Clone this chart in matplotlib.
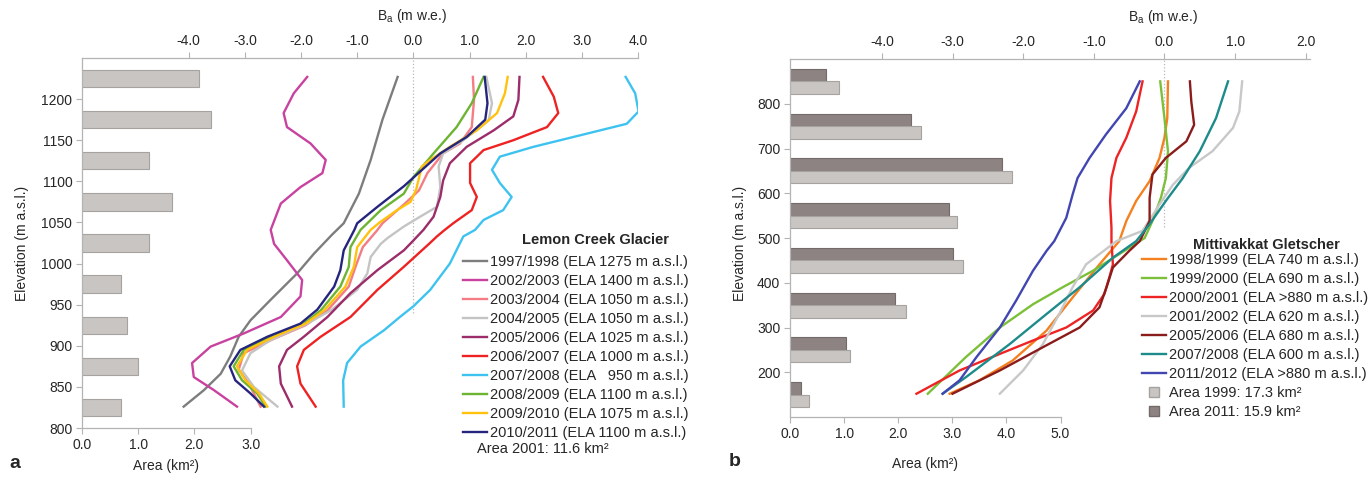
import numpy as np
import matplotlib.pyplot as plt
from matplotlib.lines import Line2D

plt.rcParams["font.family"] = ["Liberation Sans", "DejaVu Sans"]
plt.rcParams["axes.unicode_minus"] = False

# ---------------- panel a: Lemon Creek Glacier ----------------
lc_band = [825, 875, 925, 975, 1025, 1075, 1125, 1175, 1225]
lc_area = [0.70, 1.00, 0.80, 0.70, 1.20, 1.60, 1.20, 2.30, 2.08]

lc_9798_e = [1227, 1175, 1126, 1085, 1049, 1035, 1012, 988, 956, 931, 911, 887, 866, 846, 826]
lc_9798_b = [-0.28, -0.55, -0.76, -0.97, -1.24, -1.45, -1.77, -2.07, -2.54, -2.90, -3.11, -3.26, -3.43, -3.73, -4.09]

lc_0203_e = [1227, 1207, 1183, 1166, 1146, 1126, 1110, 1093, 1073, 1041, 1024, 1004, 980, 960, 935, 915, 899, 879, 862, 846, 826]
lc_0203_b = [-1.89, -2.13, -2.31, -2.25, -1.83, -1.56, -1.62, -2.01, -2.36, -2.54, -2.48, -2.25, -1.98, -2.01, -2.36, -3.02, -3.61, -3.94, -3.91, -3.55, -3.14]

lc_0304_e = [1227, 1199, 1166, 1146, 1134, 1110, 1089, 1073, 1049, 1040, 1020, 996, 972, 943, 925, 908, 891, 871, 854, 826]
lc_0304_b = [1.06, 1.08, 1.04, 0.83, 0.53, 0.25, 0.10, -0.15, -0.55, -0.65, -0.90, -1.03, -1.15, -1.53, -1.92, -2.50, -3.02, -3.11, -2.93, -2.72]

lc_0405_e = [1227, 1195, 1174, 1150, 1134, 1118, 1093, 1069, 1057, 1045, 1031, 1024, 1008, 988, 968, 943, 927, 907, 891, 870, 850, 826]
lc_0405_b = [1.30, 1.40, 1.34, 0.89, 0.53, 0.45, 0.48, 0.42, 0.12, -0.17, -0.46, -0.58, -0.76, -0.82, -1.00, -1.47, -1.89, -2.54, -2.90, -3.05, -2.84, -2.42]

lc_0506_e = [1227, 1199, 1179, 1162, 1142, 1122, 1101, 1081, 1057, 1041, 1028, 1016, 992, 964, 935, 911, 895, 875, 854, 826]
lc_0506_b = [1.89, 1.87, 1.78, 1.43, 0.95, 0.65, 0.53, 0.48, 0.36, 0.18, 0.0, -0.17, -0.64, -1.12, -1.53, -1.95, -2.25, -2.39, -2.36, -2.16]

lc_0607_e = [1227, 1203, 1183, 1166, 1150, 1138, 1122, 1098, 1081, 1065, 1049, 1041, 1033, 1024, 996, 968, 935, 911, 895, 875, 854, 826]
lc_0607_b = [2.31, 2.50, 2.58, 2.38, 1.78, 1.25, 1.01, 1.01, 1.13, 1.04, 0.71, 0.56, 0.42, 0.28, -0.17, -0.64, -1.12, -1.65, -1.95, -2.07, -2.01, -1.74]

lc_0708_e = [1227, 1207, 1185, 1170, 1158, 1142, 1130, 1114, 1098, 1081, 1065, 1053, 1041, 1033, 1000, 968, 948, 935, 919, 899, 879, 858, 826]
lc_0708_b = [3.78, 3.95, 4.01, 3.80, 3.09, 2.14, 1.54, 1.40, 1.54, 1.75, 1.60, 1.25, 1.10, 0.89, 0.65, 0.30, 0.0, -0.24, -0.52, -0.94, -1.18, -1.25, -1.24]

lc_0809_e = [1227, 1195, 1166, 1134, 1105, 1085, 1065, 1041, 1020, 996, 972, 943, 927, 911, 895, 875, 858, 842, 826]
lc_0809_b = [1.25, 1.04, 0.77, 0.36, 0.0, -0.17, -0.58, -0.94, -1.12, -1.15, -1.30, -1.65, -1.95, -2.54, -3.02, -3.20, -3.05, -2.78, -2.63]

lc_0910_e = [1227, 1207, 1183, 1162, 1142, 1126, 1118, 1090, 1075, 1065, 1050, 1041, 1020, 996, 972, 943, 927, 911, 895, 875, 858, 842, 826]
lc_0910_b = [1.68, 1.63, 1.49, 1.13, 0.65, 0.30, 0.15, 0.05, -0.05, -0.29, -0.60, -0.76, -1.00, -1.06, -1.21, -1.59, -1.92, -2.48, -2.96, -3.14, -2.99, -2.75, -2.60]

lc_1011_e = [1227, 1195, 1175, 1154, 1134, 1118, 1094, 1069, 1049, 1041, 1016, 992, 972, 944, 927, 911, 895, 875, 858, 842, 826]
lc_1011_b = [1.27, 1.32, 1.28, 0.95, 0.48, 0.22, -0.17, -0.64, -1.00, -1.05, -1.24, -1.30, -1.41, -1.71, -2.01, -2.60, -3.08, -3.27, -3.17, -2.90, -2.66]

lc_labels = ["1997/1998 (ELA 1275 m a.s.l.)", "2002/2003 (ELA 1400 m a.s.l.)",
             "2003/2004 (ELA 1050 m a.s.l.)", "2004/2005 (ELA 1050 m a.s.l.)",
             "2005/2006 (ELA 1025 m a.s.l.)", "2006/2007 (ELA 1000 m a.s.l.)",
             "2007/2008 (ELA   950 m a.s.l.)", "2008/2009 (ELA 1100 m a.s.l.)",
             "2009/2010 (ELA 1075 m a.s.l.)", "2010/2011 (ELA 1100 m a.s.l.)"]
lc_colors = ["#7d7d7d", "#c8429f", "#f47c84", "#c4c4c4", "#9c2d6a",
             "#ee2222", "#3ec3f0", "#6cb432", "#ffc20e", "#25257e"]
lc_zero_e = [940, 1250]

# ---------------- panel b: Mittivakkat Gletscher ----------------
mi_band = [150, 250, 350, 450, 550, 650, 750, 850]
mi_area_1999 = [0.35, 1.11, 2.15, 3.19, 3.08, 4.10, 2.43, 0.90]
mi_area_2011 = [0.21, 1.03, 1.95, 3.02, 2.94, 3.91, 2.24, 0.67]

mi_9899_e = [850, 768, 724, 679, 627, 583, 538, 493, 441, 367, 293, 226, 182, 152]
mi_9899_b = [0.05, 0.04, 0.0, -0.07, -0.21, -0.40, -0.54, -0.64, -0.92, -1.30, -1.67, -2.15, -2.62, -3.04]

mi_9900_e = [850, 768, 694, 634, 590, 538, 500, 427, 390, 352, 300, 234, 152]
mi_9900_b = [-0.06, 0.0, 0.05, 0.02, -0.05, -0.17, -0.28, -1.01, -1.44, -1.86, -2.33, -2.81, -3.35]

mi_0001_e = [850, 783, 724, 679, 634, 583, 523, 493, 441, 412, 375, 338, 300, 271, 241, 204, 152]
mi_0001_b = [-0.31, -0.40, -0.54, -0.68, -0.75, -0.77, -0.75, -0.75, -0.73, -0.78, -0.85, -1.01, -1.39, -1.86, -2.33, -2.90, -3.51]

mi_0102_e = [850, 783, 746, 694, 657, 619, 575, 516, 493, 441, 390, 330, 263, 204, 152]
mi_0102_b = [1.10, 1.06, 0.97, 0.68, 0.35, 0.12, -0.07, -0.31, -0.68, -1.11, -1.30, -1.49, -1.72, -2.00, -2.33]

mi_0506_e = [850, 805, 753, 716, 679, 642, 590, 538, 493, 471, 434, 390, 345, 300, 256, 204, 152]
mi_0506_b = [0.36, 0.38, 0.42, 0.31, 0.02, -0.17, -0.21, -0.21, -0.35, -0.50, -0.73, -0.82, -0.92, -1.20, -1.72, -2.33, -3.00]

mi_0708_e = [850, 768, 694, 634, 583, 531, 493, 456, 390, 330, 263, 189, 152]
mi_0708_b = [0.90, 0.73, 0.50, 0.26, 0.02, -0.21, -0.40, -0.73, -1.20, -1.67, -2.19, -2.81, -3.14]

mi_1112_e = [850, 790, 731, 679, 634, 597, 545, 493, 471, 427, 360, 300, 234, 182, 152]
mi_1112_b = [-0.35, -0.54, -0.83, -1.06, -1.23, -1.30, -1.39, -1.56, -1.67, -1.86, -2.10, -2.33, -2.66, -2.90, -3.14]

mi_labels = ["1998/1999 (ELA 740 m a.s.l.)", "1999/2000 (ELA 690 m a.s.l.)",
             "2000/2001 (ELA >880 m a.s.l.)", "2001/2002 (ELA 620 m a.s.l.)",
             "2005/2006 (ELA 680 m a.s.l.)", "2007/2008 (ELA 600 m a.s.l.)",
             "2011/2012 (ELA >880 m a.s.l.)"]
mi_colors = ["#f5801f", "#7cc03a", "#ee2424", "#c8c8c8", "#8b1c1c", "#1e8b8b", "#4146b0"]
mi_zero_e = [525, 900]

W, H = 1370, 482
AX_COL = "#b4b4b4"
TXT = "#262626"


def box(x, y, w, h):
    # pixel box (left, top, width, height) -> figure fraction rect
    return [x / W, 1 - (y + h) / H, w / W, h / H]


def style(ax, top):
    ax.tick_params(direction="out", length=4, width=0.8, color=AX_COL,
                   labelsize=10, labelcolor=TXT, pad=3)
    for s in ax.spines.values():
        s.set_color(AX_COL)
        s.set_linewidth(0.9)
    if top:
        for s in ["left", "right", "bottom"]:
            ax.spines[s].set_visible(False)
    else:
        ax.spines[["right", "top"]].set_visible(False)


fig = plt.figure(figsize=(W / 100, H / 100), dpi=100)

# ---- panel a
ax_a = fig.add_axes(box(82, 58, 556, 370))
ax_a.barh(lc_band, lc_area, height=21, color="#c9c5c3", edgecolor="#a6a2a0", linewidth=0.8)
ax_a.set_xlim(0, 556 / 56.2)
ax_a.set_ylim(800, 1250)
ax_a.set_yticks(range(800, 1201, 50))
ax_a.set_xticks([0, 1, 2, 3])
ax_a.xaxis.set_major_formatter("{x:.1f}")
style(ax_a, False)
ax_a.spines["bottom"].set_bounds(0, 3)

bx_a = ax_a.twiny()
bx_a.set_xlim(-5.9, 4.0)
bx_a.set_xticks(np.arange(-4, 4.01, 1))
bx_a.xaxis.set_major_formatter("{x:.1f}")
style(bx_a, True)
bx_a.plot([0, 0], lc_zero_e, ls=":", color="#b8b8b8", lw=0.9)
lc_series = [(lc_9798_b, lc_9798_e), (lc_0203_b, lc_0203_e), (lc_0304_b, lc_0304_e),
             (lc_0405_b, lc_0405_e), (lc_0506_b, lc_0506_e), (lc_0607_b, lc_0607_e),
             (lc_0708_b, lc_0708_e), (lc_0809_b, lc_0809_e), (lc_0910_b, lc_0910_e),
             (lc_1011_b, lc_1011_e)]
handles_a = []
for (b, e), c, lab in zip(lc_series, lc_colors, lc_labels):
    ln, = bx_a.plot(b, e, color=c, lw=1.7, solid_joinstyle="round", label=lab)
    handles_a.append(ln)
bx_a.set_ylim(800, 1250)

leg_a = bx_a.legend(handles=handles_a, loc="upper left", bbox_to_anchor=(463 / W, 1 - 255 / H),
                    bbox_transform=fig.transFigure, frameon=False, fontsize=10.5,
                    handlelength=1.65, handletextpad=0.2, labelspacing=0.34,
                    borderpad=0, borderaxespad=0)
for t in leg_a.get_texts():
    t.set_color(TXT)
fig.text(595 / W, 1 - 240 / H, "Lemon Creek Glacier", ha="center", va="center",
         fontsize=10.5, fontweight="bold", color=TXT)
fig.text(477 / W, 1 - 449 / H, "Area 2001: 11.6 km²", ha="left", va="center",
         fontsize=10.5, color=TXT)
fig.text(22 / W, 1 - 243 / H, "Elevation (m a.s.l.)", rotation=90, ha="center", va="center",
         fontsize=10, color=TXT)
fig.text(166 / W, 1 - 466 / H, "Area (km²)", ha="center", va="center",
         fontsize=10, color=TXT)
fig.text(412 / W, 1 - 16 / H, "B$_{\\mathregular{a}}$ (m w.e.)", ha="center", va="center",
         fontsize=10, color=TXT)
fig.text(15 / W, 1 - 463 / H, "a", ha="center", va="center", fontsize=14,
         fontweight="bold", color=TXT)

# ---- panel b
ax_b = fig.add_axes(box(790, 59, 520, 358))
ax_b.barh([v + 14 for v in mi_band], mi_area_2011, height=28, color="#8c8382",
          edgecolor="#736b6a", linewidth=0.8)
ax_b.barh([v - 14 for v in mi_band], mi_area_1999, height=28, color="#c9c5c3",
          edgecolor="#a6a2a0", linewidth=0.8)
ax_b.set_xlim(0, 520 / 54.1)
ax_b.set_ylim(100, 900)
ax_b.set_yticks(range(200, 801, 100))
ax_b.set_xticks([0, 1, 2, 3, 4, 5])
ax_b.xaxis.set_major_formatter("{x:.1f}")
style(ax_b, False)
ax_b.spines["bottom"].set_bounds(0, 5)

bx_b = ax_b.twiny()
bx_b.set_xlim(-5.30, 2.06)
bx_b.set_xticks(np.arange(-4, 2.01, 1))
bx_b.xaxis.set_major_formatter("{x:.1f}")
style(bx_b, True)
bx_b.plot([0, 0], mi_zero_e, ls=":", color="#b8b8b8", lw=0.9)
mi_series = [(mi_9899_b, mi_9899_e), (mi_9900_b, mi_9900_e), (mi_0001_b, mi_0001_e),
             (mi_0102_b, mi_0102_e), (mi_0506_b, mi_0506_e), (mi_0708_b, mi_0708_e),
             (mi_1112_b, mi_1112_e)]
handles_b = []
for (b, e), c, lab in zip(mi_series, mi_colors, mi_labels):
    ln, = bx_b.plot(b, e, color=c, lw=1.7, solid_joinstyle="round", label=lab)
    handles_b.append(ln)
bx_b.set_ylim(100, 900)
handles_b.append(Line2D([], [], ls="none", marker="s", markersize=7.5,
                        markerfacecolor="#c9c5c3", markeredgecolor="#a6a2a0",
                        label="Area 1999: 17.3 km²"))
handles_b.append(Line2D([], [], ls="none", marker="s", markersize=7.5,
                        markerfacecolor="#8c8382", markeredgecolor="#736b6a",
                        label="Area 2011: 15.9 km²"))
leg_b = bx_b.legend(handles=handles_b, loc="upper left", bbox_to_anchor=(1142 / W, 1 - 253 / H),
                    bbox_transform=fig.transFigure, frameon=False, fontsize=10.5,
                    handlelength=1.65, handletextpad=0.2, labelspacing=0.34,
                    borderpad=0, borderaxespad=0)
for t in leg_b.get_texts():
    t.set_color(TXT)
fig.text(1266 / W, 1 - 245 / H, "Mittivakkat Gletscher", ha="center", va="center",
         fontsize=10.5, fontweight="bold", color=TXT)
fig.text(740 / W, 1 - 243 / H, "Elevation (m a.s.l.)", rotation=90, ha="center", va="center",
         fontsize=10, color=TXT)
fig.text(925 / W, 1 - 464 / H, "Area (km²)", ha="center", va="center",
         fontsize=10, color=TXT)
fig.text(1163 / W, 1 - 17 / H, "B$_{\\mathregular{a}}$ (m w.e.)", ha="center", va="center",
         fontsize=10, color=TXT)
fig.text(735 / W, 1 - 462 / H, "b", ha="center", va="center", fontsize=14,
         fontweight="bold", color=TXT)

fig.savefig("out.png", dpi=100)
